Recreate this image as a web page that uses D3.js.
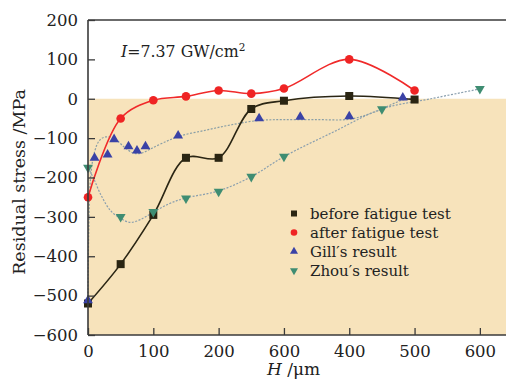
<!DOCTYPE html>
<html><head><meta charset="utf-8">
<script src="https://cdn.jsdelivr.net/npm/d3@7"></script>
<style>body{margin:0;background:#fff}svg{display:block}</style>
</head><body>
<script>
// ---- data ----
const beforeX = [0, 50, 100, 150, 200, 250, 300, 400, 500];
const beforeY = [-520, -420, -295, -150, -150, -26, -5, 7, -2];
const afterX  = [0, 50, 100, 150, 200, 250, 300, 400, 500];
const afterY  = [-250, -50, -4, 6, 21, 13, 26, 100, 21];
const gillX = [0, 10, 30, 40, 62, 75, 88, 138, 262, 325, 400, 482];
const gillY = [-512, -150, -142, -103, -121, -132, -121, -94, -50, -46, -45, 3];
const zhouX = [0, 50, 100, 150, 200, 250, 300, 450, 600];
const zhouY = [-175, -300, -287, -253, -236, -198, -147, -26, 25];
// fitted (dotted) curves
const gillFitX = [0, 1, 4, 10, 18, 27, 40, 55, 70, 82, 95, 115, 140, 180, 220, 262, 300, 350, 400, 440, 482, 500];
const gillFitY = [-512, -350, -200, -135, -105, -97, -100, -122, -138, -138, -128, -112, -95, -80, -66, -55, -53, -53, -52, -33, -3, 0];
const zhouFitX = [0, 8, 20, 35, 50, 65, 80, 100, 125, 150, 200, 250, 300, 375, 450, 525, 600];
const zhouFitY = [-175, -200, -245, -285, -304, -314, -307, -288, -266, -252, -234, -198, -147, -85, -26, 0, 25];
const xTickVals = [0, 100, 200, 300, 400, 500, 600];
const xTickLabels = ["0", "100", "200", "600", "400", "500", "600"];
const yTickVals = [200, 100, 0, -100, -200, -300, -400, -500, -600];
const legendLabels = ["before fatigue test", "after fatigue test", "Gill\u2032s result", "Zhou\u2032s result"];

// ---- layout ----
const W = 506, H = 381;
const m = {l: 88, r: 0, t: 20, b: 46};
const svg = d3.select("body").append("svg").attr("width", W).attr("height", H);
const x = d3.scaleLinear().domain([0, 640]).range([m.l, W - m.r]);
const y = d3.scaleLinear().domain([-600, 200]).range([H - m.b, m.t]);
const font = "'DejaVu Serif', serif";
const axisCol = "#3a3a3a";

// shaded region below zero
svg.append("rect").attr("x", x(0)).attr("y", y(0))
  .attr("width", x(640) - x(0)).attr("height", y(-600) - y(0))
  .attr("fill", "#f7e3bb");

// fit curves (dotted)
const fitLine = (xs, ys) => d3.line().curve(d3.curveCatmullRom.alpha(0.5))
  .x((d, i) => x(xs[i])).y((d, i) => y(ys[i]))(xs);
svg.append("path").attr("d", fitLine(gillFitX, gillFitY)).attr("fill", "none")
  .attr("stroke", "#8a9fa6").attr("stroke-width", 1.2).attr("stroke-dasharray", "2,1.5");
svg.append("path").attr("d", fitLine(zhouFitX, zhouFitY)).attr("fill", "none")
  .attr("stroke", "#8a9fae").attr("stroke-width", 1.2).attr("stroke-dasharray", "2,1.5");

// solid curves
svg.append("path").attr("d", fitLine(beforeX, beforeY)).attr("fill", "none")
  .attr("stroke", "#2b2614").attr("stroke-width", 1.6);
svg.append("path").attr("d", fitLine(afterX, afterY)).attr("fill", "none")
  .attr("stroke", "#f02a2a").attr("stroke-width", 1.6);

// markers
const colBefore = "#2a2512", colAfter = "#ef2424", colGill = "#3a42a6", colZhou = "#3f8d72";
svg.append("g").selectAll("rect").data(beforeX).join("rect")
  .attr("x", (d) => x(d) - 4).attr("y", (d, i) => y(beforeY[i]) - 4)
  .attr("width", 8).attr("height", 8).attr("fill", colBefore);
svg.append("g").selectAll("circle").data(afterX).join("circle")
  .attr("cx", (d) => x(d)).attr("cy", (d, i) => y(afterY[i])).attr("r", 4.3).attr("fill", colAfter);
const tri = d3.symbol().type(d3.symbolTriangle).size(42);
svg.append("g").selectAll("path").data(gillX).join("path")
  .attr("d", tri).attr("fill", colGill)
  .attr("transform", (d, i) => `translate(${x(d)},${y(gillY[i])})`);
svg.append("g").selectAll("path").data(zhouX).join("path")
  .attr("d", tri).attr("fill", colZhou)
  .attr("transform", (d, i) => `translate(${x(d)},${y(zhouY[i])}) rotate(180)`);

// axes frame
svg.append("line").attr("x1", x(0)).attr("x2", W).attr("y1", y(200)).attr("y2", y(200))
  .attr("stroke", axisCol).attr("stroke-width", 1.6);
svg.append("line").attr("x1", x(0)).attr("x2", W).attr("y1", y(-600)).attr("y2", y(-600))
  .attr("stroke", axisCol).attr("stroke-width", 1.6);
svg.append("line").attr("x1", x(0)).attr("x2", x(0)).attr("y1", y(200)).attr("y2", y(-600))
  .attr("stroke", axisCol).attr("stroke-width", 1.6);

// y axis
const yAxis = d3.axisLeft(y).tickValues(yTickVals).tickSizeInner(-7).tickSizeOuter(0).tickPadding(6)
  .tickFormat(d3.format("d"));
const gy = svg.append("g").attr("transform", `translate(${x(0)},0)`).call(yAxis);
gy.select(".domain").remove();
gy.selectAll("line").attr("stroke", axisCol).attr("stroke-width", 1.3);
gy.selectAll("text").attr("font-family", font).attr("font-size", 16.5).attr("fill", "#222").attr("x", -10);

// x axis
const xAxis = d3.axisBottom(x).tickValues(xTickVals).tickSizeInner(-7).tickSizeOuter(0).tickPadding(10)
  .tickFormat((d, i) => xTickLabels[i]);
const gx = svg.append("g").attr("transform", `translate(0,${y(-600)})`).call(xAxis);
gx.select(".domain").remove();
gx.selectAll("line").attr("stroke", axisCol).attr("stroke-width", 1.3);
gx.selectAll("text").attr("font-family", font).attr("font-size", 16.5).attr("fill", "#222");

// axis titles
svg.append("text").attr("transform", `translate(25,182) rotate(-90)`).attr("text-anchor", "middle")
  .attr("font-family", font).attr("font-size", 17.5).attr("fill", "#222").text("Residual stress /MPa");
const xt = svg.append("text").attr("x", 267).attr("y", 375)
  .attr("font-family", font).attr("font-size", 17).attr("fill", "#222");
xt.append("tspan").attr("font-style", "italic").text("H");
xt.append("tspan").text(" /\u03bcm");

// annotation
const an = svg.append("text").attr("x", 121).attr("y", 57)
  .attr("font-family", font).attr("font-size", 15.8).attr("fill", "#222");
an.append("tspan").attr("font-style", "italic").text("I");
an.append("tspan").text("=7.37 GW/cm");
an.append("tspan").attr("font-size", 10.5).attr("dy", -6).text("2");

// legend
const lg = svg.append("g");
const rowsY = [213.5, 232.5, 251.5, 270.5];
lg.append("rect").attr("x", 291).attr("y", rowsY[0] - 3).attr("width", 6).attr("height", 6).attr("fill", colBefore);
lg.append("circle").attr("cx", 294).attr("cy", rowsY[1]).attr("r", 3.3).attr("fill", colAfter);
const tri2 = d3.symbol().type(d3.symbolTriangle).size(28);
lg.append("path").attr("d", tri2).attr("fill", colGill).attr("transform", `translate(294,${rowsY[2]})`);
lg.append("path").attr("d", tri2).attr("fill", colZhou).attr("transform", `translate(294,${rowsY[3]}) rotate(180)`);
lg.selectAll("text").data(legendLabels).join("text")
  .attr("x", 310).attr("y", (d, i) => rowsY[i] + 5)
  .attr("font-family", font).attr("font-size", 15).attr("fill", "#222").text((d) => d);
</script>
</body></html>
